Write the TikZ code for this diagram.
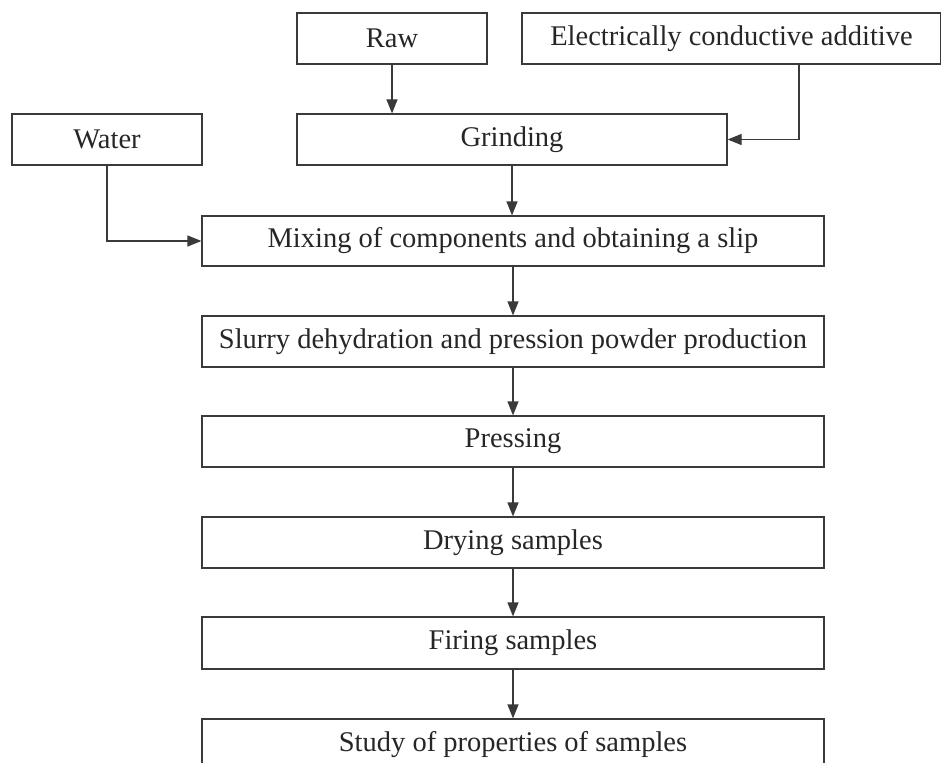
\documentclass[tikz,border=0pt]{standalone}
\usepackage{fontspec}
\setmainfont{Liberation Serif}
\usetikzlibrary{arrows.meta,calc}
\definecolor{ln}{HTML}{3A3A3A}
\definecolor{tx}{HTML}{262626}
\tikzset{
  box/.style={draw=ln, line width=1.2pt, minimum height=51pt, inner sep=0pt, text=tx,
    font=\fontsize{28.5}{32}\selectfont},
  arr/.style={draw=ln, line width=1.2pt, -{Triangle[length=14pt,width=11pt]}},
}
\begin{document}
\begin{tikzpicture}[x=1pt,y=-1pt]
\useasboundingbox (0,0) rectangle (941,762);
\clip (0,0) rectangle (941,762);
\node[box, minimum width=190pt] (raw) at (392,38.5) {Raw};
\node[box, minimum width=419pt] (eca) at (731.5,38.5) {Electrically conductive additive};
\node[box, minimum width=190pt] (water) at (107,139.5) {Water};
\node[box, minimum width=430pt] (grind) at (512,139.5) {Grinding};
\node[box, minimum width=622pt, minimum height=50pt] (mix) at (513,241) {Mixing of components and obtaining a slip};
\node[box, minimum width=622pt] (slurry) at (513,341.5) {Slurry dehydration and pression powder production};
\node[box, minimum width=622pt] (press) at (513,441.5) {Pressing};
\node[box, minimum width=622pt] (dry) at (513,542.5) {Drying samples};
\node[box, minimum width=622pt, minimum height=52pt] (fire) at (513,643) {Firing samples};
\node[box, minimum width=622pt] (study) at (513,744.5) {Study of properties of samples};
\coordinate (ecaout) at (799,64);
\draw[arr] (raw.south) -- (raw.south |- grind.north);
\draw[arr] (ecaout) |- (grind.east);
\draw[arr] (water.south) |- (mix.west);
\draw[arr] (grind.south) -- (grind.south |- mix.north);
\draw[arr] (mix) -- (slurry);
\draw[arr] (slurry) -- (press);
\draw[arr] (press) -- (dry);
\draw[arr] (dry) -- (fire);
\draw[arr] (fire) -- (study);
\end{tikzpicture}
\end{document}
